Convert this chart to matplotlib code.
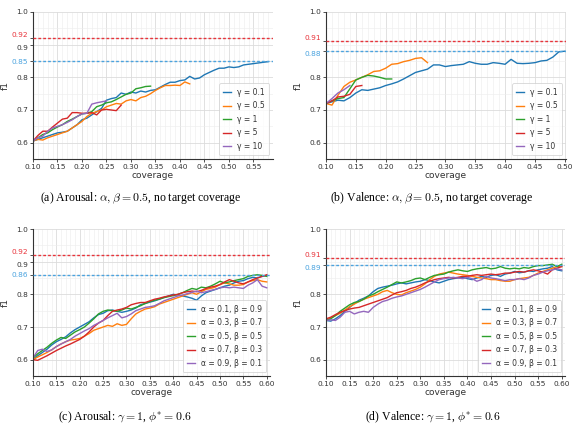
import numpy as np
import matplotlib
matplotlib.use("Agg")
import matplotlib.pyplot as plt
from matplotlib.ticker import MultipleLocator, FormatStrFormatter

plt.rcParams['mathtext.fontset'] = 'cm'

# ---------------- data ----------------
gamma_labels = ["γ = 0.1", "γ = 0.5", "γ = 1", "γ = 5", "γ = 10"]
alpha_labels = ["α = 0.1, β = 0.9", "α = 0.3, β = 0.7", "α = 0.5, β = 0.5",
                "α = 0.7, β = 0.3", "α = 0.9, β = 0.1"]

# (a) Arousal, gamma sweep
a_g01 = [0.605, 0.610, 0.615, 0.620, 0.625, 0.630, 0.632, 0.635, 0.645, 0.655, 0.670, 0.675, 0.685, 0.695,
         0.705, 0.730, 0.735, 0.738, 0.752, 0.748, 0.755, 0.752, 0.758, 0.755, 0.760, 0.762, 0.770, 0.778,
         0.785, 0.785, 0.790, 0.792, 0.803, 0.795, 0.798, 0.808, 0.815, 0.822, 0.828, 0.828, 0.832, 0.830,
         0.832, 0.838, 0.840, 0.842, 0.844, 0.846, 0.848]
a_g05 = [0.605, 0.610, 0.608, 0.615, 0.620, 0.625, 0.630, 0.635, 0.645, 0.655, 0.665, 0.680, 0.690, 0.695,
         0.700, 0.710, 0.715, 0.720, 0.718, 0.728, 0.732, 0.728, 0.738, 0.742, 0.750, 0.760, 0.768, 0.775,
         0.775, 0.776, 0.775, 0.786, 0.780]
a_g1 = [0.605, 0.615, 0.625, 0.630, 0.640, 0.648, 0.655, 0.665, 0.672, 0.680, 0.688, 0.690, 0.695, 0.710,
        0.715, 0.722, 0.725, 0.732, 0.740, 0.748, 0.752, 0.765, 0.768, 0.772, 0.773]
a_g5 = [0.605, 0.622, 0.635, 0.635, 0.648, 0.660, 0.672, 0.675, 0.692, 0.692, 0.690, 0.690, 0.692, 0.685,
        0.700, 0.702, 0.700, 0.698, 0.715]
a_g10 = [0.605, 0.615, 0.620, 0.635, 0.645, 0.650, 0.655, 0.662, 0.670, 0.680, 0.688, 0.690, 0.718, 0.722,
         0.725, 0.728]

# (b) Valence, gamma sweep
b_g01 = [0.720, 0.725, 0.730, 0.728, 0.738, 0.752, 0.762, 0.760, 0.764, 0.768, 0.775, 0.780, 0.786, 0.795,
         0.805, 0.815, 0.820, 0.825, 0.838, 0.838, 0.833, 0.836, 0.838, 0.840, 0.848, 0.843, 0.840, 0.840,
         0.845, 0.843, 0.840, 0.855, 0.843, 0.842, 0.843, 0.845, 0.850, 0.852, 0.862, 0.878, 0.880]
b_g05 = [0.720, 0.715, 0.745, 0.772, 0.785, 0.792, 0.800, 0.808, 0.818, 0.820, 0.828, 0.840, 0.842, 0.848,
         0.852, 0.858, 0.860, 0.845]
b_g1 = [0.720, 0.728, 0.735, 0.738, 0.765, 0.792, 0.800, 0.806, 0.804, 0.800, 0.795, 0.795]
b_g5 = [0.720, 0.728, 0.740, 0.742, 0.748, 0.772, 0.775]
b_g10 = [0.720, 0.735, 0.752, 0.762, 0.775]

# (c) Arousal, alpha/beta sweep
c_a1 = [0.600, 0.612, 0.622, 0.632, 0.645, 0.655, 0.662, 0.670, 0.682, 0.692, 0.700, 0.708, 0.716, 0.728,
        0.738, 0.742, 0.750, 0.752, 0.748, 0.745, 0.748, 0.752, 0.758, 0.768, 0.772, 0.776, 0.780, 0.785,
        0.790, 0.795, 0.800, 0.798, 0.795, 0.792, 0.788, 0.782, 0.795, 0.805, 0.810, 0.815, 0.820, 0.825,
        0.828, 0.835, 0.840, 0.842, 0.848, 0.852, 0.850, 0.855, 0.858]
c_a3 = [0.600, 0.608, 0.615, 0.622, 0.630, 0.640, 0.648, 0.655, 0.660, 0.662, 0.665, 0.672, 0.680, 0.690,
        0.695, 0.700, 0.705, 0.702, 0.710, 0.705, 0.708, 0.725, 0.740, 0.748, 0.755, 0.758, 0.762, 0.770,
        0.775, 0.780, 0.785, 0.790, 0.795, 0.800, 0.805, 0.800, 0.808, 0.815, 0.818, 0.822, 0.830, 0.835,
        0.832, 0.828, 0.828, 0.830, 0.838, 0.842, 0.845, 0.840, 0.838]
c_a5 = [0.605, 0.618, 0.628, 0.638, 0.650, 0.660, 0.668, 0.665, 0.675, 0.685, 0.692, 0.700, 0.712, 0.725,
        0.740, 0.748, 0.752, 0.750, 0.748, 0.752, 0.758, 0.755, 0.760, 0.765, 0.772, 0.778, 0.782, 0.785,
        0.790, 0.793, 0.796, 0.800, 0.805, 0.812, 0.818, 0.815, 0.822, 0.820, 0.825, 0.832, 0.840, 0.835,
        0.838, 0.842, 0.845, 0.848, 0.855, 0.858, 0.860, 0.858, 0.855]
c_a7 = [0.600, 0.598, 0.605, 0.612, 0.620, 0.628, 0.635, 0.642, 0.648, 0.655, 0.662, 0.672, 0.685, 0.700,
        0.712, 0.720, 0.735, 0.748, 0.752, 0.755, 0.760, 0.768, 0.772, 0.775, 0.775, 0.780, 0.785, 0.788,
        0.792, 0.795, 0.798, 0.800, 0.805, 0.808, 0.810, 0.808, 0.812, 0.818, 0.822, 0.825, 0.830, 0.838,
        0.845, 0.840, 0.835, 0.832, 0.838, 0.845, 0.850, 0.855, 0.860]
c_a9 = [0.605, 0.628, 0.632, 0.625, 0.630, 0.640, 0.648, 0.655, 0.662, 0.672, 0.680, 0.688, 0.695, 0.705,
        0.712, 0.720, 0.728, 0.735, 0.742, 0.728, 0.732, 0.740, 0.750, 0.755, 0.760, 0.762, 0.765, 0.772,
        0.780, 0.785, 0.790, 0.795, 0.798, 0.802, 0.806, 0.810, 0.805, 0.808, 0.812, 0.815, 0.820, 0.822,
        0.820, 0.822, 0.820, 0.818, 0.828, 0.835, 0.845, 0.825, 0.820]

# (d) Valence, alpha/beta sweep
d_a1 = [0.720, 0.718, 0.725, 0.735, 0.748, 0.760, 0.772, 0.782, 0.788, 0.795, 0.808, 0.818, 0.822, 0.825,
        0.828, 0.832, 0.835, 0.832, 0.835, 0.838, 0.840, 0.845, 0.842, 0.838, 0.835, 0.840, 0.845, 0.848,
        0.850, 0.852, 0.848, 0.845, 0.850, 0.855, 0.852, 0.858, 0.860, 0.855, 0.862, 0.865, 0.870, 0.866,
        0.868, 0.872, 0.870, 0.875, 0.878, 0.880, 0.885, 0.875, 0.872]
d_a3 = [0.720, 0.728, 0.735, 0.742, 0.752, 0.762, 0.770, 0.778, 0.785, 0.790, 0.795, 0.800, 0.808, 0.812,
        0.805, 0.800, 0.798, 0.805, 0.810, 0.815, 0.822, 0.832, 0.845, 0.855, 0.862, 0.865, 0.868, 0.865,
        0.862, 0.860, 0.858, 0.855, 0.852, 0.850, 0.848, 0.845, 0.845, 0.842, 0.840, 0.840, 0.845, 0.848,
        0.850, 0.852, 0.858, 0.865, 0.870, 0.875, 0.880, 0.885, 0.885]
d_a5 = [0.720, 0.725, 0.735, 0.748, 0.758, 0.768, 0.775, 0.778, 0.785, 0.795, 0.800, 0.808, 0.815, 0.822,
        0.830, 0.838, 0.835, 0.838, 0.842, 0.848, 0.850, 0.845, 0.852, 0.858, 0.860, 0.862, 0.868, 0.872,
        0.875, 0.872, 0.870, 0.875, 0.878, 0.880, 0.882, 0.878, 0.880, 0.885, 0.880, 0.878, 0.880, 0.878,
        0.882, 0.880, 0.885, 0.888, 0.888, 0.890, 0.892, 0.885, 0.892]
d_a7 = [0.725, 0.730, 0.738, 0.745, 0.750, 0.755, 0.758, 0.760, 0.765, 0.770, 0.775, 0.780, 0.785, 0.790,
        0.798, 0.805, 0.808, 0.812, 0.818, 0.822, 0.828, 0.835, 0.840, 0.845, 0.848, 0.850, 0.852, 0.850,
        0.852, 0.855, 0.855, 0.858, 0.860, 0.858, 0.860, 0.862, 0.860, 0.862, 0.865, 0.865, 0.868, 0.870,
        0.868, 0.872, 0.875, 0.872, 0.868, 0.862, 0.875, 0.880, 0.885]
d_a9 = [0.720, 0.722, 0.720, 0.730, 0.745, 0.748, 0.740, 0.745, 0.748, 0.745, 0.760, 0.770, 0.778, 0.782,
        0.788, 0.792, 0.795, 0.800, 0.805, 0.810, 0.815, 0.822, 0.830, 0.838, 0.845, 0.848, 0.850, 0.852,
        0.850, 0.848, 0.852, 0.848, 0.840, 0.845, 0.855, 0.850, 0.848, 0.845, 0.842, 0.845, 0.845, 0.848,
        0.845, 0.850, 0.858, 0.862, 0.868, 0.872, 0.875, 0.878, 0.875]

# reference lines (red upper, blue lower)
ref_red = [0.92, 0.91, 0.92, 0.91]
ref_blue = [0.85, 0.88, 0.86, 0.89]
base_yticks = [[0.6, 0.7, 0.8, 0.9, 1.0], [0.6, 0.7, 0.8, 1.0], [0.6, 0.7, 0.8, 0.9, 1.0], [0.6, 0.7, 0.8, 1.0]]
xmax = [0.59, 0.502, 0.607, 0.607]
captions = [r"(a) Arousal: $\alpha, \beta = 0.5$, no target coverage",
            r"(b) Valence: $\alpha, \beta = 0.5$, no target coverage",
            r"(c) Arousal: $\gamma = 1$, $\phi^{*} = 0.6$",
            r"(d) Valence: $\gamma = 1$, $\phi^{*} = 0.6$"]

panels = [(a_g01, a_g05, a_g1, a_g5, a_g10), (b_g01, b_g05, b_g1, b_g5, b_g10),
          (c_a1, c_a3, c_a5, c_a7, c_a9), (d_a1, d_a3, d_a5, d_a7, d_a9)]
panel_labels = [gamma_labels, gamma_labels, alpha_labels, alpha_labels]

colors = ['#1f77b4', '#ff7f0e', '#2ca02c', '#d62728', '#9467bd']
RED = '#e8333a'
BLUE = '#4aa3df'

W, H = 580, 434
fig = plt.figure(figsize=(W / 100, H / 100), dpi=100)
boxes = [(33, 12, 273, 159), (326, 12, 566, 159), (33, 229, 270, 376), (326, 229, 565, 376)]
cap_pos = [(141, 198), (432, 198), (125, 417), (433, 417)]

for i in range(4):
    l, t, r, b = boxes[i]
    ax = fig.add_axes([l / W, 1 - b / H, (r - l) / W, (b - t) / H])
    for series, lab, c in zip(panels[i], panel_labels[i], colors):
        x = np.round(0.10 + 0.01 * np.arange(len(series)), 2)
        ax.plot(x, series, color=c, lw=1.0, label=lab)
    ax.axhline(ref_red[i], color=RED, lw=1.0, dashes=(2.0, 1.5), zorder=3)
    ax.axhline(ref_blue[i], color=BLUE, lw=1.0, dashes=(2.0, 1.5), zorder=3)
    ax.set_xlim(0.10, xmax[i])
    ax.set_ylim(0.55, 1.0)
    ax.xaxis.set_major_locator(MultipleLocator(0.05))
    ax.xaxis.set_minor_locator(MultipleLocator(0.01))
    ax.yaxis.set_minor_locator(MultipleLocator(0.05))
    yt = base_yticks[i] + [ref_red[i], ref_blue[i]]
    ax.set_yticks(yt)
    ax.set_yticklabels([f"{v:.1f}" for v in base_yticks[i]] + [f"{ref_red[i]:.2f}", f"{ref_blue[i]:.2f}"])
    ax.xaxis.set_major_formatter(FormatStrFormatter('%.2f'))
    ax.tick_params(axis='both', which='major', labelsize=5.3, length=2, width=0.6, pad=1.5,
                   colors='#333333')
    ax.tick_params(axis='both', which='minor', length=0)
    ylabs = ax.get_yticklabels()
    ylabs[-2].set_color(RED)
    ylabs[-1].set_color(BLUE)
    if i in (0, 2):
        ylabs[3].set_va('top')
        ylabs[-2].set_va('bottom')
    else:
        ylabs[-2].set_va('bottom')
        ylabs[-1].set_va('top')
    ax.grid(True, which='major', color='#dcdcdc', lw=0.6)
    ax.grid(True, which='minor', color='#ededed', lw=0.4)
    ax.set_axisbelow(True)
    for s in ['top', 'right']:
        ax.spines[s].set_visible(False)
    for s in ['left', 'bottom']:
        ax.spines[s].set_color('#333333')
        ax.spines[s].set_linewidth(0.8)
    ax.set_xlabel('coverage', fontsize=6.5, labelpad=1, color='#333333')
    ax.set_ylabel('f1', fontsize=6.5, labelpad=1, color='#333333')
    leg = ax.legend(loc='lower right', fontsize=5.5, handlelength=1.0, handletextpad=0.8,
                    labelspacing=0.6, borderpad=0.55, frameon=True, fancybox=True)
    leg.get_frame().set_edgecolor('#cccccc')
    leg.get_frame().set_linewidth(0.6)
    for txt in leg.get_texts():
        txt.set_color('#333333')
    fig.text(cap_pos[i][0] / W, 1 - cap_pos[i][1] / H, captions[i], ha='center', va='center',
             fontsize=8.5, family='Liberation Serif')

fig.savefig('out.png', dpi=100)
